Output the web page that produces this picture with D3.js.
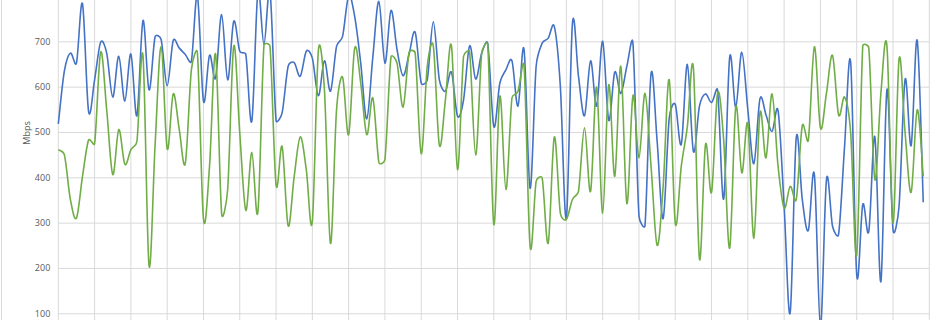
<!DOCTYPE html>
<html>
<head>
<meta charset="utf-8">
<script src="https://cdn.jsdelivr.net/npm/d3@7"></script>
<style>
  body { margin:0; background:#fff; }
  .tick text { font-family:"Open Sans", "Liberation Sans", sans-serif; }
</style>
</head>
<body>
<script>
// speed test samples, Mbps
var blue = [518,634,674,652,783,546,615,698,674,577,667,568,672,536,746,593,710,704,602,702,
  685,671,656,800,568,669,619,759,615,744,678,671,524,810,693,810,526,542,645,653,
  623,678,663,580,657,590,689,711,800,755,652,529,665,788,652,768,682,624,672,720,
  608,615,743,615,590,632,535,571,690,617,674,695,512,608,637,657,557,682,376,645,
  696,707,733,601,310,739,623,536,657,557,700,526,632,585,645,696,315,294,629,480,
  309,530,561,473,649,457,557,584,565,592,352,665,555,676,549,430,573,538,501,547,
  336,101,487,351,283,406,70,395,292,274,470,653,185,340,281,489,170,594,285,336,
  616,470,702,345];

var green = [461,450,351,310,402,482,474,676,549,406,505,429,461,479,668,205,470,688,463,584,
  505,431,637,674,308,424,672,321,373,689,498,327,455,324,691,689,384,468,293,402,
  489,417,303,680,593,254,549,621,494,685,608,494,575,433,439,665,652,555,676,674,
  452,645,690,471,571,690,417,667,676,449,674,693,296,579,373,575,590,645,248,391,
  398,255,489,321,307,351,369,509,369,599,321,604,402,645,342,580,443,585,424,250,
  380,615,299,425,512,641,220,472,367,586,483,244,555,410,518,266,542,443,584,424,
  332,380,351,514,482,688,509,586,669,538,577,498,229,690,685,395,586,689,299,661,
  498,367,549,402];

var yTicks = [100,200,300,400,500,600,700];
var xSteps = 144;   // category slots across the plot
var gridEvery = 6;

var width = 950;
var height = 320;

var plot = {
  left:58.3,
  right:929.3,
  zeroY:358.6,
  topY:-4
}

// smoothed line like a spreadsheet: 1/6 tangents, capped on short segments
var dist = function(a,b){ return Math.sqrt((a[0]-b[0])*(a[0]-b[0])+(a[1]-b[1])*(a[1]-b[1])); }
var SmoothLine = function(context){ this._context = context; }
SmoothLine.prototype = {
  areaStart: function(){},
  areaEnd: function(){},
  lineStart: function(){ this._pts = []; },
  point: function(x,y){ this._pts.push([+x,+y]); },
  lineEnd: function(){
    var p = this._pts, c = this._context, n = p.length;
    if (!n) return;
    c.moveTo(p[0][0],p[0][1]);
    for (var i=0;i<n-1;i++){
      var p0 = p[Math.max(i-1,0)], p1 = p[i], p2 = p[i+1], p3 = p[Math.min(i+2,n-1)];
      var d12 = dist(p1,p2), d02 = dist(p0,p2), d13 = dist(p1,p3);
      var f1 = 1/6, f2 = 1/6;
      if (d02>0 && d02/6 > d12/2) f1 = d12/(2*d02);
      if (d13>0 && d13/6 > d12/2) f2 = d12/(2*d13);
      c.bezierCurveTo(p1[0]+(p2[0]-p0[0])*f1, p1[1]+(p2[1]-p0[1])*f1,
                      p2[0]-(p3[0]-p1[0])*f2, p2[1]-(p3[1]-p1[1])*f2,
                      p2[0], p2[1]);
    }
  }
};
var curveSmooth = function(context){ return new SmoothLine(context); }

var svg = d3.select("body").append("svg")
            .attr("width",width)
            .attr("height",height);

var xScale = d3.scaleLinear()
              .domain([0,xSteps])
              .range([plot.left,plot.right]);

var yScale = d3.scaleLinear()
              .domain([0,800])
              .range([plot.zeroY,plot.topY]);

// chart border at far left
svg.append("line")
   .attr("x1",1.5).attr("x2",1.5)
   .attr("y1",0).attr("y2",height)
   .attr("stroke","#d9d9d9");

// vertical gridlines
var xGrid = d3.range(0,xSteps+1,gridEvery);
svg.append("g").selectAll("line")
   .data(xGrid)
   .enter().append("line")
   .attr("x1",function(d){ return xScale(d); })
   .attr("x2",function(d){ return xScale(d); })
   .attr("y1",0)
   .attr("y2",height)
   .attr("stroke","#d9d9d9")
   .attr("stroke-width",1);

// horizontal gridlines + labels through a left axis
var yAxis = d3.axisLeft(yScale)
              .tickValues(yTicks)
              .tickSize(-(plot.right-plot.left))
              .tickPadding(8);

var yg = svg.append("g")
            .attr("transform","translate("+plot.left+",0)")
            .call(yAxis);
yg.select(".domain").remove();
yg.selectAll(".tick line").attr("stroke","#d9d9d9");
yg.selectAll(".tick text")
  .attr("fill","#595959")
  .attr("font-size","9px");

svg.append("text")
   .attr("transform","translate(30,133) rotate(-90)")
   .attr("text-anchor","middle")
   .attr("font-family","Open Sans, sans-serif")
   .attr("font-size","9px")
   .attr("fill","#595959")
   .text("Mbps");

var line = d3.line()
             .x(function(d,i){ return xScale(i); })
             .y(function(d){ return yScale(d); })
             .curve(curveSmooth);

svg.append("path")
   .datum(blue)
   .attr("d",line)
   .attr("fill","none")
   .attr("stroke","#4472c4")
   .attr("stroke-width",1.6);

svg.append("path")
   .datum(green)
   .attr("d",line)
   .attr("fill","none")
   .attr("stroke","#70ad47")
   .attr("stroke-width",1.6);
</script>
</body>
</html>
